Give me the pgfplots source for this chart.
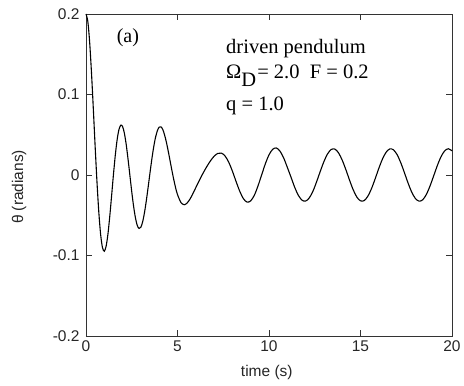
\documentclass[border=0pt]{standalone}
\usepackage{fontspec}
\setmainfont{Liberation Sans}
\newfontfamily\serif{Liberation Serif}
\usepackage{pgfplots}
\pgfplotsset{compat=1.18}
\usepackage{pgfplotstable}

% Euler-Cromer run of the driven, damped pendulum: time (s), theta (rad)
\pgfplotstableread{
t theta
0.0 0.2000
0.1 0.1907
0.2 0.1649
0.3 0.1271
0.4 0.0824
0.5 0.0354
0.6 -0.0086
0.7 -0.0461
0.8 -0.0739
0.9 -0.0902
1.0 -0.0947
1.1 -0.0884
1.2 -0.0732
1.3 -0.0511
1.4 -0.0256
1.5 0.0005
1.6 0.0243
1.7 0.0436
1.8 0.0564
1.9 0.0619
2.0 0.0602
2.1 0.0516
2.2 0.0374
2.3 0.0192
2.4 -0.0007
2.5 -0.0208
2.6 -0.0387
2.7 -0.0530
2.8 -0.0626
2.9 -0.0664
3.0 -0.0648
3.1 -0.0577
3.2 -0.0462
3.3 -0.0313
3.4 -0.0144
3.5 0.0032
3.6 0.0200
3.7 0.0349
3.8 0.0468
3.9 0.0550
4.0 0.0595
4.1 0.0598
4.2 0.0563
4.3 0.0493
4.4 0.0400
4.5 0.0289
4.6 0.0170
4.7 0.0051
4.8 -0.0061
4.9 -0.0161
5.0 -0.0243
5.2 -0.0346
5.4 -0.0369
5.6 -0.0328
5.8 -0.0251
6.0 -0.0157
6.2 -0.0064
6.4 0.0024
6.6 0.0104
6.8 0.0175
7.0 0.0233
7.2 0.0268
7.4 0.0272
7.6 0.0236
7.8 0.0159
8.0 0.0048
8.2 -0.0080
8.4 -0.0201
8.6 -0.0293
8.8 -0.0337
9.0 -0.0321
9.2 -0.0251
9.4 -0.0135
9.6 0.0002
9.8 0.0139
10.0 0.0250
10.2 0.0319
10.4 0.0336
10.6 0.0297
10.8 0.0213
11.0 0.0096
11.2 -0.0025
11.4 -0.0150
11.6 -0.0251
11.8 -0.0312
12.0 -0.0324
12.2 -0.0285
12.4 -0.0202
12.6 -0.0085
12.8 0.0044
13.0 0.0166
13.2 0.0262
13.4 0.0317
13.6 0.0322
13.8 0.0275
14.0 0.0185
14.2 0.0067
14.4 -0.0063
14.6 -0.0183
14.8 -0.0274
15.0 -0.0321
15.2 -0.0318
15.4 -0.0264
15.6 -0.0170
15.8 -0.0048
16.0 0.0082
16.2 0.0198
16.4 0.0283
16.6 0.0324
16.8 0.0313
17.0 0.0253
17.2 0.0153
17.4 0.0029
17.6 -0.0100
17.8 -0.0213
18.0 -0.0292
18.2 -0.0325
18.4 -0.0308
18.6 -0.0241
18.8 -0.0136
19.0 -0.0010
19.2 0.0118
19.4 0.0227
19.6 0.0300
19.8 0.0326
20.0 0.0300
}\pendulum

\begin{document}
\begin{tikzpicture}
\begin{axis}[
  scale only axis,
  width=366pt, height=322pt,
  xmin=0, xmax=20, ymin=-0.2, ymax=0.2,
  xtick={0,5,10,15,20},
  ytick={-0.2,-0.1,0,0.1,0.2},
  yticklabels={-0.2,-0.1,0,0.1,0.2},
  major tick length=6pt,
  axis line style={black!80, line width=0.9pt},
  every tick/.style={black!80, line width=0.9pt},
  /pgf/number format/assume math mode=true,
  ticklabel style={font=\fontsize{15.5}{17}\selectfont, black!85},
  xticklabel style={yshift=-1pt},
  yticklabel style={xshift=-3pt},
  xlabel={time (s)},
  ylabel={θ (radians)},
  label style={font=\fontsize{15.5}{17}\selectfont, black!85},
  xlabel style={at={(axis description cs:0.494,0)}, anchor=base, yshift=-40.5pt},
  ylabel style={at={(axis description cs:0,0.463)}, anchor=center, yshift=67pt},
  clip=false,
]
\addplot[black, line width=1.1pt, smooth] table[x=t, y=theta] {\pendulum};

\node[anchor=base west, font=\serif\fontsize{20}{22}\selectfont]
  at (axis cs:1.49,0.165) {(a)};
\node[anchor=base west, font=\serif\fontsize{20.5}{22}\selectfont]
  at (axis cs:7.47,0.1512) {driven pendulum};
\node[anchor=base west, font=\serif\fontsize{20.5}{22}\selectfont]
  at (axis cs:7.47,0.1201) {Ω\raisebox{-0.38em}{D}\kern1pt= 2.0\hspace{0.5em}F = 0.2};
\node[anchor=base west, font=\serif\fontsize{20.5}{22}\selectfont]
  at (axis cs:7.47,0.0807) {q = 1.0};
\end{axis}
\pgfresetboundingbox
\path (-86pt,-50pt) rectangle (378pt,336pt);
\end{tikzpicture}
\end{document}
